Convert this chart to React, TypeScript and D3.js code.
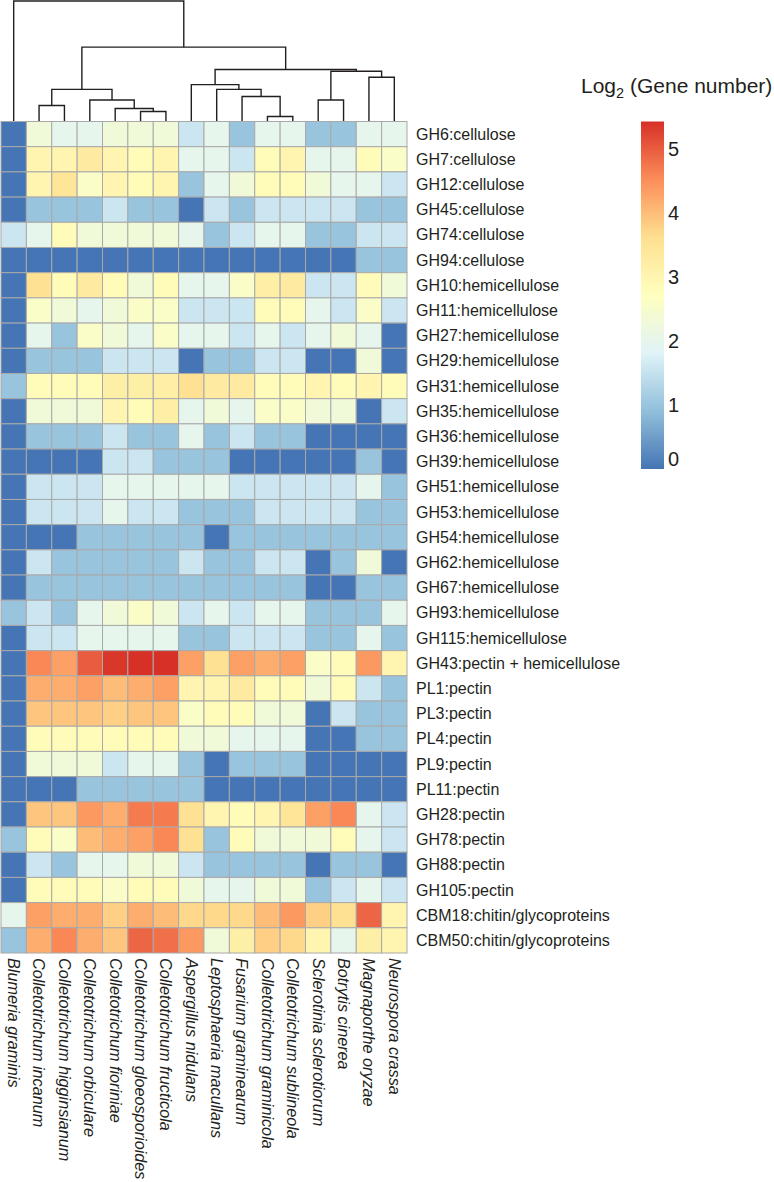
import React from "react";
import * as d3 from "d3";

// columns, left to right (dendrogram leaf order)
const species = [
  "Blumeria graminis",
  "Colletotrichum incanum",
  "Colletotrichum higginsianum",
  "Colletotrichum orbiculare",
  "Colletotrichum fioriniae",
  "Colletotrichum gloeosporioides",
  "Colletotrichum fructicola",
  "Aspergillus nidulans",
  "Leptosphaeria macullans",
  "Fusarium graminearum",
  "Colletotrichum graminicola",
  "Colletotrichum sublineola",
  "Sclerotinia sclerotiorum",
  "Botrytis cinerea",
  "Magnaporthe oryzae",
  "Neurospora crassa",
];

// rows, top to bottom
const families = [
  "GH6:cellulose", "GH7:cellulose", "GH12:cellulose", "GH45:cellulose", "GH74:cellulose", "GH94:cellulose",
  "GH10:hemicellulose", "GH11:hemicellulose", "GH27:hemicellulose", "GH29:hemicellulose", "GH31:hemicellulose",
  "GH35:hemicellulose", "GH36:hemicellulose", "GH39:hemicellulose", "GH51:hemicellulose", "GH53:hemicellulose",
  "GH54:hemicellulose", "GH62:hemicellulose", "GH67:hemicellulose", "GH93:hemicellulose", "GH115:hemicellulose",
  "GH43:pectin + hemicellulose",
  "PL1:pectin", "PL3:pectin", "PL4:pectin", "PL9:pectin", "PL11:pectin",
  "GH28:pectin", "GH78:pectin", "GH88:pectin", "GH105:pectin",
  "CBM18:chitin/glycoproteins", "CBM50:chitin/glycoproteins",
];

// log2 gene number, one row per family, columns in species order
const values: number[][] = [
  [0, 2.32, 2, 2, 2.32, 2.32, 2.32, 1.58, 2, 1, 2, 2, 1, 1, 2, 2],
  [0, 3, 3, 3.32, 3, 2.81, 3, 2, 2, 1.58, 2.81, 3, 2, 2, 2.81, 2.58],
  [0, 3, 3.46, 2.58, 3, 2.81, 3, 1, 2, 2.32, 2.81, 2.81, 2.32, 2, 2, 1.58],
  [0, 1, 1, 1, 1.58, 1, 1, 0, 1.58, 1, 1.58, 1.58, 1.58, 1.58, 1, 1],
  [1.58, 2, 2.81, 2.32, 2.32, 2.32, 2.32, 2, 1, 1.58, 2, 2, 1, 1, 1.58, 1.58],
  [0, 0, 0, 0, 0, 0, 0, 0, 0, 0, 0, 0, 0, 0, 1, 1],
  [0, 3.58, 2.81, 3.32, 2.81, 2.32, 2.81, 2, 2, 2.58, 3.17, 3.32, 1.58, 1.58, 2.81, 2.32],
  [0, 2.58, 2.32, 2, 2.32, 2.58, 2.58, 1.58, 1.58, 1.58, 2.81, 2.81, 2, 1.58, 2.58, 1.58],
  [0, 2, 1, 2.58, 2.32, 2, 2.58, 2, 2, 1.58, 2, 1.58, 2, 2.32, 2, 0],
  [0, 1, 1, 1, 1.58, 1.58, 1.58, 0, 1, 1, 1.58, 1.58, 0, 0, 2.32, 0],
  [1, 2.81, 2.81, 2.81, 3.17, 3.17, 3.17, 3.58, 3.32, 3.32, 2.81, 2.81, 3, 2.81, 3, 2.81],
  [0, 2.32, 2.32, 2.32, 3, 2.81, 3.17, 2, 2.32, 2, 2.58, 2.58, 2.32, 2.32, 0, 1.58],
  [0, 1, 1, 1, 1.58, 1, 1, 2, 1, 1.58, 1, 1, 0, 0, 0, 0],
  [0, 0, 0, 0, 1.58, 1.58, 1, 1, 1, 0, 0, 0, 0, 0, 1, 0],
  [0, 1.58, 1.58, 1.58, 2, 2, 2, 2, 2, 1.58, 1.58, 1.58, 1.58, 1.58, 2, 1],
  [0, 1.58, 1.58, 1.58, 2, 1.58, 1.58, 1, 1, 1, 1.58, 1.58, 1.58, 1.58, 1, 1],
  [0, 0, 0, 1, 1, 1, 1, 1, 0, 1, 1, 1, 1, 1, 1, 1],
  [0, 1.58, 1, 1, 1, 1, 1, 1.58, 1, 1, 1.58, 1.58, 0, 1, 2.32, 0],
  [0, 1, 1, 1, 1, 1, 1, 1, 1, 1, 1, 1, 0, 0, 1, 1],
  [1, 1.58, 1, 2, 2.32, 2.58, 2.32, 1.58, 2, 1.58, 2, 2, 1, 1, 1, 2],
  [0, 1.58, 1.58, 2, 2, 2, 2, 1, 1, 1.58, 1.58, 1.58, 1, 1, 2, 1],
  [0, 4.58, 4.32, 5, 5.36, 5.43, 5.43, 4.32, 3.58, 4.32, 4.17, 4.32, 2.58, 2.81, 4.39, 3],
  [0, 4.17, 4.17, 4.32, 4, 4.17, 4.32, 3, 3, 3.32, 2.81, 2.81, 2.32, 2.81, 1.58, 1],
  [0, 3.91, 3.91, 3.91, 3.81, 3.91, 3.91, 2.58, 2.81, 2.81, 2.32, 2.32, 0, 1.58, 1, 1],
  [0, 2.81, 2.81, 2.81, 2.81, 2.81, 2.81, 2.32, 2.32, 2, 2, 2, 0, 0, 1, 1],
  [0, 2.32, 2.32, 2.32, 1.58, 2, 2, 1, 0, 1, 1, 1, 0, 0, 0, 0],
  [0, 0, 0, 1, 1, 1, 1, 1, 0, 0, 0, 0, 0, 0, 0, 0],
  [0, 3.91, 3.91, 4.39, 4.17, 4.7, 4.7, 3.58, 3, 2.81, 3, 3.46, 4.32, 4.58, 2, 1.58],
  [1, 2.81, 2.58, 4, 4.17, 4.32, 4.58, 3.58, 1, 2.81, 2.32, 2.32, 2.32, 2.81, 2, 1.58],
  [0, 1.58, 1, 2, 2, 2.32, 2.32, 1.58, 1, 1, 1, 1, 0, 1, 1, 0],
  [0, 2.81, 2.81, 2.81, 2.58, 2.81, 2.81, 2.32, 2, 2, 2.32, 2.32, 1, 1.58, 2, 1.58],
  [2, 4.32, 4.17, 4.17, 3.81, 4.17, 4, 3.7, 3.7, 3.7, 4, 4.39, 3.81, 3.58, 4.91, 3],
  [1, 4.17, 4.58, 4.17, 3.91, 4.91, 4.81, 4.39, 2.32, 3.17, 3.81, 3.7, 3, 2, 3.17, 3],
];

// column clustering, hclust style: negative = leaf (-(index+1)), positive = earlier merge (1-based)
const merges: [number, number][] = [
  [-11, -12],
  [-6, -7],
  [-5, 2],
  [-2, -3],
  [-13, -14],
  [-4, 3],
  [-10, 1],
  [4, 6],
  [-9, 7],
  [-8, 9],
  [-15, -16],
  [5, 11],
  [10, 12],
  [8, 13],
  [-1, 14],
];
const mergeHeights = [0.42, 0.83, 1.08, 1.33, 1.78, 1.78, 2.08, 2.67, 2.67, 3.06, 3.67, 4.17, 4.31, 6.17, 10];

const paletteColors = ["#4575B4", "#91BFDB", "#E0F3F8", "#FFFFBF", "#FEE090", "#FC8D59", "#D73027"];
const maxValue = 5.43;
const legendTicks = [0, 1, 2, 3, 4, 5];

const W = 774;
const H = 1182;
const gridLeft = 1;
const gridRight = 407;
const gridTop = 121.5;
const gridBottom = 953;
const font = "'Liberation Sans', Arial, Helvetica, sans-serif";
const ink = "#231f20";

const App: React.FC = () => {
  const x = d3.scaleBand<string>().domain(species).range([gridLeft, gridRight]);
  const y = d3.scaleBand<string>().domain(families).range([gridTop, gridBottom]);

  const colorStops = paletteColors.map((_, i) => (i / (paletteColors.length - 1)) * maxValue);
  const color = d3
    .scaleLinear<string>()
    .domain(colorStops)
    .range(paletteColors)
    .interpolate(d3.interpolateRgb)
    .clamp(true);

  // dendrogram
  const hY = d3.scaleLinear().domain([0, 10]).range([gridTop, 1]);
  const leafX = (i: number) => (x(species[i]) ?? 0) + x.bandwidth() / 2;
  const nodeX: number[] = [];
  const pos = (c: number) => (c < 0 ? leafX(-c - 1) : nodeX[c - 1]);
  const ht = (c: number) => (c < 0 ? 0 : mergeHeights[c - 1]);
  const treePaths = merges.map(([a, b], k) => {
    const h = mergeHeights[k];
    nodeX[k] = (pos(a) + pos(b)) / 2;
    const p = d3.path();
    p.moveTo(pos(a), hY(ht(a)));
    p.lineTo(pos(a), hY(h));
    p.lineTo(pos(b), hY(h));
    p.lineTo(pos(b), hY(ht(b)));
    return p.toString();
  });

  // legend
  const legX = 641;
  const legW = 23;
  const legTop = 121.5;
  const legBottom = 469;
  const legScale = d3.scaleLinear().domain([0, maxValue]).range([legBottom, legTop]);

  return (
    <svg
      width={W}
      height={H}
      viewBox={`0 0 ${W} ${H}`}
      style={{ position: "absolute", left: 0, top: 0, background: "#fff" }}
      fontFamily={font}
    >
      <defs>
        <linearGradient id="legend-gradient" x1="0%" y1="100%" x2="0%" y2="0%">
          {paletteColors.map((c, i) => (
            <stop key={i} offset={`${(i / (paletteColors.length - 1)) * 100}%`} stopColor={c} />
          ))}
        </linearGradient>
      </defs>

      <g fill="none" stroke={ink} strokeWidth={1.4}>
        {treePaths.map((d, i) => (
          <path key={i} d={d} />
        ))}
      </g>

      <g>
        {values.map((row, r) =>
          row.map((v, c) => (
            <rect
              key={`${r}-${c}`}
              x={x(species[c])}
              y={y(families[r])}
              width={x.bandwidth()}
              height={y.bandwidth()}
              fill={color(v)}
              stroke="#a9a9a9"
              strokeWidth={1}
            />
          ))
        )}
      </g>

      <g fontSize={16} fill={ink}>
        {families.map((f) => (
          <text key={f} x={gridRight + 9} y={(y(f) ?? 0) + y.bandwidth() / 2} dy="0.35em">
            {f}
          </text>
        ))}
      </g>

      <g fontSize={16.2} fill={ink} fontStyle="italic">
        {species.map((s) => (
          <text
            key={s}
            transform={`translate(${(x(s) ?? 0) + x.bandwidth() / 2},${gridBottom + 5}) rotate(90)`}
            dy="0.35em"
          >
            {s}
          </text>
        ))}
      </g>

      <text x={581} y={93} fontSize={21} fill={ink}>
        Log
        <tspan fontSize={14.5} dy={5}>2</tspan>
        <tspan dy={-5}> (Gene number)</tspan>
      </text>

      <rect x={legX} y={legTop} width={legW} height={legBottom - legTop} fill="url(#legend-gradient)" />
      <g fontSize={20} fill={ink}>
        {legendTicks.map((t) => (
          <text key={t} x={legX + legW + 4} y={Math.min(legScale(t), legBottom - 10)} dy="0.36em">
            {t}
          </text>
        ))}
      </g>
    </svg>
  );
};

export default App;
